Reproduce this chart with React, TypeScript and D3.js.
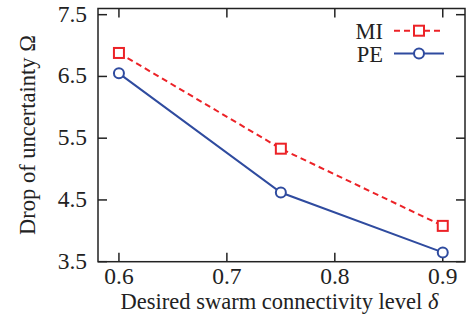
import React from "react";
import * as d3 from "d3";

const xValues = [0.6, 0.75, 0.9];
const miValues = [6.88, 5.33, 4.08];
const peValues = [6.55, 4.62, 3.65];
const xTicks = [0.6, 0.7, 0.8, 0.9];
const yTicks = [3.5, 4.5, 5.5, 6.5, 7.5];

const W = 472, H = 322;
const L = 98, R = 465, T = 8.5, B = 261.7;
const RED = "#ec2227";
const BLUE = "#2f4b9f";
const FONT = "'Liberation Serif', 'Times New Roman', serif";

export default function App() {
  const x = d3.scaleLinear().domain([0.5806, 0.9206]).range([L, R]);
  const y = d3.scaleLinear().domain([3.5, 7.6]).range([B, T]);
  const line = d3.line<number>().x((_, i) => x(xValues[i])).y((d) => y(d));
  const tick = 9;
  return (
    <svg width={W} height={H} style={{ position: "absolute", left: 0, top: 0, background: "#fff" }} fontFamily={FONT}>
      <rect x={0} y={0} width={W} height={H} fill="#fff" />
      {xTicks.map((t) => (
        <g key={"x" + t}>
          <line x1={x(t)} x2={x(t)} y1={B} y2={B - tick} stroke="#222" strokeWidth={1.5} />
          <line x1={x(t)} x2={x(t)} y1={T} y2={T + tick} stroke="#222" strokeWidth={1.5} />
          <text x={x(t)} y={284} textAnchor="middle" fontSize={23.5} fill="#222">{t.toFixed(1)}</text>
        </g>
      ))}
      {yTicks.map((t) => (
        <g key={"y" + t}>
          <line x1={L} x2={L + tick} y1={y(t)} y2={y(t)} stroke="#222" strokeWidth={1.5} />
          <line x1={R} x2={R - tick} y1={y(t)} y2={y(t)} stroke="#222" strokeWidth={1.5} />
          <text x={87} y={y(t) + 7} textAnchor="end" fontSize={23.5} fill="#222">{t.toFixed(1)}</text>
        </g>
      ))}
      <path d={line(miValues) || ""} fill="none" stroke={RED} strokeWidth={2} strokeDasharray="6,4" />
      <path d={line(peValues) || ""} fill="none" stroke={BLUE} strokeWidth={2} />
      {miValues.map((v, i) => (
        <rect key={"m" + i} x={x(xValues[i]) - 5} y={y(v) - 5} width={10} height={10} fill="#fff" stroke={RED} strokeWidth={2} />
      ))}
      {peValues.map((v, i) => (
        <circle key={"p" + i} cx={x(xValues[i])} cy={y(v)} r={5} fill="#fff" stroke={BLUE} strokeWidth={2} />
      ))}
      <rect x={L} y={T} width={R - L} height={B - T} fill="none" stroke="#222" strokeWidth={1.5} />
      {/* legend */}
      <g>
        <text x={383} y={38.5} textAnchor="end" fontSize={22.5} fill="#222">MI</text>
        <line x1={394} x2={444} y1={30.7} y2={30.7} stroke={RED} strokeWidth={2} strokeDasharray="6,4" />
        <rect x={414} y={25.7} width={10} height={10} fill="#fff" stroke={RED} strokeWidth={2} />
        <text x={383} y={61.5} textAnchor="end" fontSize={22.5} fill="#222">PE</text>
        <line x1={394} x2={444} y1={53.5} y2={53.5} stroke={BLUE} strokeWidth={2} />
        <circle cx={419} cy={53.5} r={5} fill="#fff" stroke={BLUE} strokeWidth={2} />
      </g>
      <text x={279.5} y={308.5} textAnchor="middle" fontSize={22.5} fill="#222">
        Desired swarm connectivity level <tspan fontStyle="italic">δ</tspan>
      </text>
      <text transform={`translate(35,${135}) rotate(-90)`} textAnchor="middle" fontSize={22.5} fill="#222">
        Drop of uncertainty Ω
      </text>
    </svg>
  );
}
